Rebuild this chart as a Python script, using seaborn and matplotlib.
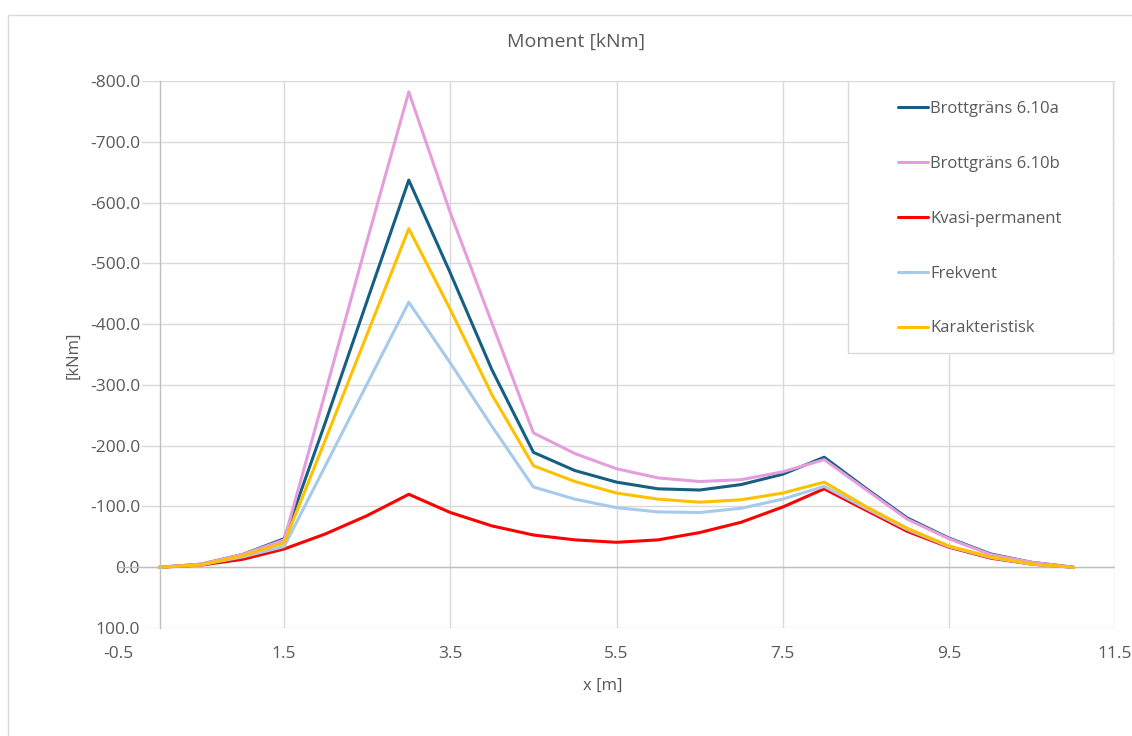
import numpy as np
import pandas as pd
import seaborn as sns
import matplotlib
matplotlib.use("Agg")
import matplotlib.pyplot as plt
from matplotlib.patches import Rectangle
from matplotlib.lines import Line2D
from matplotlib.ticker import FuncFormatter

# Positions along the beam [m]
x_pos = [0.0, 0.5, 1.0, 1.5, 2.0, 2.5, 3.0, 3.5, 4.0, 4.5, 5.0, 5.5,
         6.0, 6.5, 7.0, 7.5, 8.0, 8.5, 9.0, 9.5, 10.0, 10.5, 11.0]

# Bending moment per load combination [kNm]
brott_610a = [0, -5, -21, -47, -240, -439, -637, -484, -325, -189, -159, -140,
              -129, -127, -136, -153, -181, -130, -81, -48, -22, -8, 0]
brott_610b = [0, -5, -21, -45, -290, -538, -782, -583, -402, -221, -187, -162,
              -147, -141, -144, -157, -177, -128, -79, -47, -21, -8, 0]
kvasi_perm = [0, -3.5, -13, -30, -55, -85, -120, -90, -68, -53, -45, -41,
              -45, -57, -74, -99, -129, -94, -59, -33, -15, -5, 0]
frekvent = [0, -4, -17, -34, -168, -302, -436, -336, -232, -132, -112, -98,
            -91, -90, -97, -112, -133, -97, -62, -34, -16, -5, 0]
karakteristisk = [0, -4, -19, -40, -211, -384, -557, -424, -284, -167, -141, -122,
                  -112, -107, -111, -122, -140, -100, -64, -35, -17, -5.5, 0]

series_names = ["Brottgräns 6.10a", "Brottgräns 6.10b", "Kvasi-permanent",
                "Frekvent", "Karakteristisk"]
series_values = [brott_610a, brott_610b, kvasi_perm, frekvent, karakteristisk]
series_colors = ["#156082", "#E49EDD", "#FF0000", "#A6CAEC", "#FFC000"]

x_ticks = [-0.5, 1.5, 3.5, 5.5, 7.5, 9.5, 11.5]
y_ticks = [-800, -700, -600, -500, -400, -300, -200, -100, 0, 100]

df = pd.concat(
    [pd.DataFrame({"x": x_pos, "M": vals, "serie": name})
     for name, vals in zip(series_names, series_values)],
    ignore_index=True,
)

sns.set_theme(style="white")
plt.rcParams["font.family"] = ["Open Sans", "DejaVu Sans"]

text_color = "#595959"
grid_color = "#d9d9d9"
axis_color = "#bfbfbf"
W, H = 1132, 736

fig = plt.figure(figsize=(W / 100, H / 100), dpi=100)
ax = fig.add_axes([118 / W, 1 - 628 / H, 997 / W, 547 / H])

palette = dict(zip(series_names, series_colors))
sns.lineplot(data=df, x="x", y="M", hue="serie", hue_order=series_names,
             palette=palette, linewidth=2.2, errorbar=None, legend=False,
             sort=False, ax=ax)

ax.set_xlim(-0.5, 11.5)
ax.set_ylim(100, -800)
ax.set_xticks(x_ticks)
ax.set_yticks(y_ticks)
ax.xaxis.set_major_formatter(FuncFormatter(lambda v, p: f"{v:.1f}"))
ax.yaxis.set_major_formatter(FuncFormatter(lambda v, p: f"{v:.1f}"))
ax.set_xlabel("")
ax.set_ylabel("")

# Gridlines
ax.set_axisbelow(True)
ax.grid(False)
ax.yaxis.grid(True, color=grid_color, linewidth=1)
for xv in x_ticks[1:]:
    ax.axvline(xv, color=grid_color, linewidth=1, zorder=0.6)
ax.axhline(0, color=axis_color, linewidth=1, zorder=0.7)

for side in ["top", "right", "bottom"]:
    ax.spines[side].set_visible(False)
ax.spines["left"].set_position(("data", 0))
ax.spines["left"].set_color(axis_color)
ax.spines["left"].set_linewidth(1)

ax.tick_params(length=0, labelsize=12.5, labelcolor=text_color)
ax.tick_params(axis="y", pad=14)
ax.tick_params(axis="x", pad=13)
for t in ax.yaxis.get_major_ticks():
    t.label1.set_bbox(dict(facecolor="white", edgecolor="none", pad=1.5))

# Legend box
ax.add_patch(Rectangle((0.732, 0.503), 0.266, 0.497, transform=ax.transAxes,
                       facecolor="white", edgecolor=grid_color, linewidth=1,
                       zorder=3))
handles = [Line2D([], [], color=c, linewidth=2.2) for c in series_colors]
leg = ax.legend(handles, series_names, loc="upper left",
                bbox_to_anchor=((898 - 118) / 997, (628 - 101) / 547),
                frameon=False, fontsize=12, labelspacing=2.33,
                handlelength=1.8, handletextpad=0.15, borderpad=0,
                borderaxespad=0)
for txt in leg.get_texts():
    txt.set_color(text_color)
leg.set_zorder(6)

# Titles
fig.text(576 / W, 1 - 42 / H, "Moment [kNm]", ha="center", va="center",
         fontsize=14, color=text_color)
fig.text(73 / W, 1 - 355 / H, "[kNm]", ha="center", va="center",
         rotation=90, fontsize=12, color=text_color)
fig.text(603 / W, 1 - 686 / H, "x [m]", ha="center", va="center",
         fontsize=12, color=text_color)

# Chart frame
fig.patches.append(Rectangle((8 / W, -0.1), 1.2, (1 - 15 / H) + 0.1,
                             transform=fig.transFigure, fill=False,
                             edgecolor=grid_color, linewidth=1))

fig.savefig("out.png", dpi=100)
